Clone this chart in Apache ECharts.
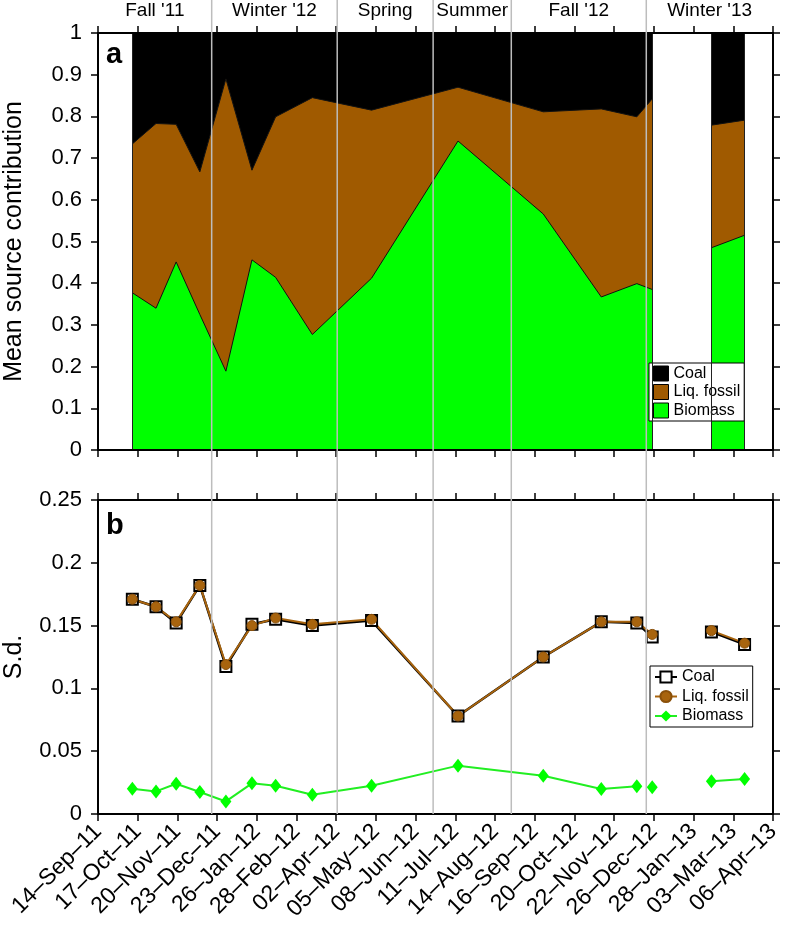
<!DOCTYPE html>
<html><head><meta charset="utf-8">
<script src="https://cdn.jsdelivr.net/npm/echarts@6/dist/echarts.min.js"></script>
<style>html,body{margin:0;padding:0;background:#fff}#c{width:788px;height:929px}</style>
</head><body><div id="c"></div>
<script>
// ---------- data ----------
const tickLabels = ['14–Sep–11','17–Oct–11','20–Nov–11','23–Dec–11','26–Jan–12','28–Feb–12','02–Apr–12','05–May–12','08–Jun–12','11–Jul–12','14–Aug–12','16–Sep–12','20–Oct–12','22–Nov–12','26–Dec–12','28–Jan–13','03–Mar–13','06–Apr–13'];
const axisStart = '2011-09-14';
const axisEnd = '2013-04-06';

const sampleDates = ['2011-10-13','2011-11-02','2011-11-19','2011-12-09','2011-12-31','2012-01-22','2012-02-11','2012-03-13','2012-05-02','2012-07-14','2012-09-24','2012-11-12','2012-12-12','2012-12-25','2013-02-13','2013-03-13'];

// panel a: mean source contribution (fractions)
const biomassFrac   = [0.377,0.340,0.451,0.325,0.189,0.456,0.414,0.277,0.412,0.741,0.566,0.367,0.399,0.385,0.485,0.515];
const liqFossilFrac = [0.357,0.443,0.330,0.342,0.701,0.215,0.385,0.568,0.403,0.129,0.245,0.451,0.400,0.457,0.294,0.276];
const coalFrac      = [0.266,0.217,0.219,0.333,0.110,0.329,0.201,0.155,0.185,0.130,0.189,0.182,0.201,0.158,0.221,0.209];

// panel b: standard deviations
const coalSD      = [0.171,0.165,0.152,0.182,0.1175,0.151,0.155,0.150,0.154,0.078,0.125,0.153,0.152,0.141,0.145,0.135];
const liqFossilSD = [0.171,0.165,0.153,0.182,0.119,0.150,0.156,0.151,0.155,0.078,0.125,0.153,0.153,0.143,0.146,0.136];
const biomassSD   = [0.0201,0.0180,0.0241,0.0175,0.0100,0.0244,0.0225,0.0154,0.0225,0.0385,0.0305,0.0199,0.0220,0.0212,0.0260,0.0279];

// gaps in sampling (index after which the record is interrupted)
const gapAfter = [13];
const biomassSDGapAfter = [12, 13];

// seasons
const seasonNames = ["Fall '11", "Winter '12", "Spring", "Summer", "Fall '12", "Winter '13"];
const seasonBounds = ['2011-12-19','2012-04-03','2012-06-23','2012-08-28','2012-12-20'];

// ---------- helpers ----------
const FONT = "'Liberation Sans', Arial, Helvetica, sans-serif";
const BROWN = '#A05A00';
const BROWN_LINE = '#A8640E';
const GREEN = '#00FF00';
const t0 = Date.parse(axisStart + 'T00:00:00Z');
const t1 = Date.parse(axisEnd + 'T00:00:00Z');
const NT = tickLabels.length - 1;
function toU(d) { return (Date.parse(d + 'T00:00:00Z') - t0) / (t1 - t0) * NT; }
const X = sampleDates.map(toU);
function seg(vals, gaps) {
  const out = [];
  X.forEach((x, i) => {
    out.push([x, vals[i]]);
    if (gaps.indexOf(i) >= 0 && i + 1 < X.length) out.push([(x + X[i + 1]) / 2, '-']);
  });
  return out;
}
const cumLiq = biomassFrac.map((b, i) => b + liqFossilFrac[i]);
const cumAll = cumLiq.map((c, i) => c + coalFrac[i]);
// edges of continuous record segments
const edgeIdx = [0];
gapAfter.forEach(g => { edgeIdx.push(g, g + 1); });
edgeIdx.push(X.length - 1);

function xAx(grid, pos, labels) {
  return {
    type: 'value', gridIndex: grid, position: pos, min: 0, max: NT, interval: 1, z: 5,
    axisLine: { show: true, onZero: false, lineStyle: { color: '#000', width: 2 } },
    axisTick: { show: true, inside: false, length: 7, lineStyle: { color: '#000', width: 1.5 } },
    splitLine: { show: false },
    axisLabel: labels ? {
      show: true, rotate: 45, margin: 14, fontSize: 23, fontFamily: FONT, color: '#000',
      formatter: v => tickLabels[Math.round(v)] || ''
    } : { show: false }
  };
}
function yAx(grid, pos, max, step, labels, name) {
  return {
    type: 'value', gridIndex: grid, position: pos, min: 0, max: max, interval: step, z: 5,
    name: name || '', nameLocation: 'middle', nameGap: 71,
    nameTextStyle: { fontSize: 25, fontFamily: FONT, color: '#000' },
    axisLine: { show: true, onZero: false, lineStyle: { color: '#000', width: 2 } },
    axisTick: { show: true, inside: false, length: 7, lineStyle: { color: '#000', width: 1.5 } },
    splitLine: { show: false },
    axisLabel: labels ? { show: true, margin: 16, fontSize: 22, fontFamily: FONT, color: '#000' } : { show: false }
  };
}

const chart = echarts.init(document.getElementById('c'), null, { renderer: 'canvas' });
const option = {
  animation: false,
  backgroundColor: '#fff',
  grid: [
    { left: 98, right: 15, top: 33, height: 417, containLabel: false, outerBoundsMode: 'none' },
    { left: 98, right: 15, top: 500, height: 314, containLabel: false, outerBoundsMode: 'none' }
  ],
  xAxis: [xAx(0, 'bottom', false), xAx(0, 'top', false), xAx(1, 'bottom', true), xAx(1, 'top', false)],
  yAxis: [
    yAx(0, 'left', 1, 0.1, true, 'Mean source contribution'),
    yAx(0, 'right', 1, 0.1, false),
    yAx(1, 'left', 0.25, 0.05, true, 'S.d.'),
    yAx(1, 'right', 0.25, 0.05, false)
  ],
  legend: [
    {
      orient: 'vertical', left: 649, top: 363, selectedMode: false,
      data: [
        { name: 'Coal', itemStyle: { color: '#000' } },
        { name: 'Liq. fossil', itemStyle: { color: BROWN } },
        { name: 'Biomass', itemStyle: { color: GREEN } }
      ],
      icon: 'rect', itemWidth: 15, itemHeight: 15, itemGap: 2.5,
      itemStyle: { borderColor: '#000', borderWidth: 1 },
      textStyle: { fontSize: 16, fontFamily: FONT, color: '#000', lineHeight: 16 },
      backgroundColor: '#fff', borderColor: '#000', borderWidth: 1, padding: [2.5, 4, 2.5, 4]
    },
    {
      orient: 'vertical', left: 650, top: 666, selectedMode: false,
      data: ['Coal ', 'Liq. fossil ', 'Biomass '],
      formatter: n => n.trim(),
      itemWidth: 22, itemHeight: 14, itemGap: 3.5,
      textStyle: { fontSize: 16, fontFamily: FONT, color: '#000', lineHeight: 16 },
      backgroundColor: '#fff', borderColor: '#000', borderWidth: 1, padding: [3, 4, 3, 4]
    }
  ],
  series: [
    {
      name: 'Coal', type: 'line', xAxisIndex: 0, yAxisIndex: 0, data: seg(cumAll, gapAfter),
      symbol: 'none', showSymbol: false, itemStyle: { color: '#000' },
      lineStyle: { color: '#000', width: 1 }, areaStyle: { color: '#000', opacity: 1 }
    },
    {
      name: 'Liq. fossil', type: 'line', xAxisIndex: 0, yAxisIndex: 0, data: seg(cumLiq, gapAfter),
      symbol: 'none', showSymbol: false, itemStyle: { color: BROWN },
      lineStyle: { color: '#111', width: 1 }, areaStyle: { color: BROWN, opacity: 1 }
    },
    {
      name: 'Biomass', type: 'line', xAxisIndex: 0, yAxisIndex: 0, data: seg(biomassFrac, gapAfter),
      symbol: 'none', showSymbol: false, itemStyle: { color: GREEN },
      lineStyle: { color: '#111', width: 1 }, areaStyle: { color: GREEN, opacity: 1 },
      markLine: {
        silent: true, symbol: ['none', 'none'], label: { show: false },
        lineStyle: { color: '#222', width: 1, type: 'solid' },
        data: edgeIdx.map(i => ({ xAxis: X[i] }))
      }
    },
    {
      name: 'Coal ', type: 'line', xAxisIndex: 2, yAxisIndex: 2, data: seg(coalSD, gapAfter),
      symbol: 'rect', symbolSize: 11, showAllSymbol: true,
      itemStyle: { color: '#fff', borderColor: '#000', borderWidth: 2 },
      lineStyle: { color: '#000', width: 2.5 }
    },
    {
      name: 'Liq. fossil ', type: 'line', xAxisIndex: 2, yAxisIndex: 2, data: seg(liqFossilSD, gapAfter),
      symbol: 'circle', symbolSize: 10, showAllSymbol: true,
      itemStyle: { color: BROWN_LINE, borderColor: '#8A500A', borderWidth: 1 },
      lineStyle: { color: BROWN_LINE, width: 2 }
    },
    {
      name: 'Biomass ', type: 'line', xAxisIndex: 2, yAxisIndex: 2, data: seg(biomassSD, biomassSDGapAfter),
      symbol: 'diamond', symbolSize: [11, 14], showAllSymbol: true,
      itemStyle: { color: GREEN },
      lineStyle: { color: '#22EE22', width: 2 }
    }
  ]
};
chart.setOption(option);

// season dividers and labels, placed through the axis scale
const yBottom = chart.convertToPixel({ yAxisIndex: 2 }, 0);
const boundsU = [0].concat(seasonBounds.map(toU), [NT]);
const boundsPx = boundsU.map(u => chart.convertToPixel({ xAxisIndex: 0 }, u));
const graphics = [];
for (let i = 1; i < boundsPx.length - 1; i++) {
  graphics.push({
    type: 'line', z: 50, silent: true,
    shape: { x1: boundsPx[i], y1: 0, x2: boundsPx[i], y2: yBottom },
    style: { stroke: '#BDBDBD', lineWidth: 1.5 }
  });
}
seasonNames.forEach((n, i) => {
  graphics.push({
    type: 'text', z: 50, silent: true,
    style: { text: n, x: (boundsPx[i] + boundsPx[i + 1]) / 2, y: 11, textAlign: 'center', textVerticalAlign: 'middle',
      font: '19px ' + FONT, fill: '#000' }
  });
});
graphics.push({ type: 'text', z: 50, silent: true,
  style: { text: 'a', x: 106, y: 55, textAlign: 'left', textVerticalAlign: 'middle', font: 'bold 29px ' + FONT, fill: '#000' } });
graphics.push({ type: 'text', z: 50, silent: true,
  style: { text: 'b', x: 106, y: 526, textAlign: 'left', textVerticalAlign: 'middle', font: 'bold 29px ' + FONT, fill: '#000' } });
chart.setOption({ graphic: graphics });
</script>
</body></html>
